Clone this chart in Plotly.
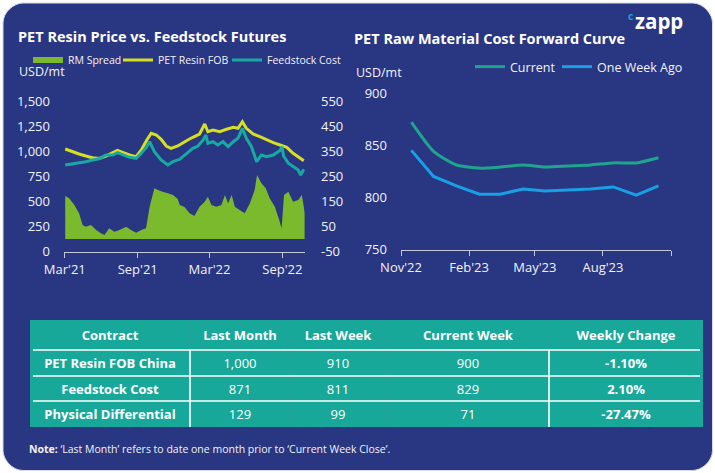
import plotly.graph_objects as go

W, H = 715, 473

# ---------------- data ----------------
resin_dates = ["2021-03-02","2021-03-20","2021-04-06","2021-04-23","2021-05-10","2021-05-27","2021-06-13","2021-06-30",
               "2021-07-12","2021-07-25","2021-08-11","2021-08-28","2021-09-10","2021-09-24","2021-10-05","2021-10-18",
               "2021-10-30","2021-11-12","2021-11-24","2021-12-11","2021-12-28","2022-01-02","2022-01-18","2022-02-04",
               "2022-02-17","2022-02-25","2022-03-10","2022-03-27","2022-04-13","2022-04-30","2022-05-12","2022-05-23",
               "2022-06-02","2022-06-19","2022-07-06","2022-07-23","2022-08-09","2022-08-26","2022-09-12","2022-09-28",
               "2022-10-11","2022-10-25"]
resin_fob = [1025, 998, 975, 955, 938, 931, 955, 988,
             1012, 992, 965, 948, 1015, 1115, 1182, 1165,
             1122, 1055, 1032, 1055, 1098, 1108, 1142, 1175,
             1275, 1198, 1215, 1198, 1222, 1242, 1232, 1298,
             1232, 1175, 1148, 1115, 1088, 1065, 1042, 982,
             948, 908]

feed_dates = ["2021-03-02","2021-03-20","2021-04-06","2021-04-23","2021-05-10","2021-05-27","2021-06-13","2021-06-30",
              "2021-07-12","2021-07-25","2021-08-11","2021-08-28","2021-09-10","2021-09-24","2021-10-01","2021-10-13",
              "2021-10-30","2021-11-16","2021-11-29","2021-12-16","2021-12-28","2022-01-02","2022-01-18","2022-01-31",
              "2022-02-13","2022-02-20","2022-02-25","2022-03-10","2022-03-22","2022-04-04","2022-04-17","2022-04-30",
              "2022-05-12","2022-05-23","2022-06-02","2022-06-15","2022-06-28","2022-07-10","2022-07-23","2022-08-09",
              "2022-08-26","2022-08-31","2022-09-04","2022-09-16","2022-09-28","2022-10-11","2022-10-17","2022-10-25"]
feedstock = [865, 875, 888, 898, 915, 928, 965, 965,
             988, 965, 942, 932, 982, 1048, 1098, 998,
             915, 865, 898, 922, 965, 982, 1032, 1055,
             1115, 1165, 1082, 1098, 1065, 1098, 1048, 1098,
             1132, 1232, 1132, 1048, 898, 965, 948, 965,
             1010, 1048, 955, 882, 848, 815, 765, 822]

spread_dates = ["2021-03-02","2021-03-12","2021-03-25","2021-04-06","2021-04-15","2021-04-23","2021-05-06","2021-05-19",
                "2021-05-31","2021-06-09","2021-06-21","2021-07-04","2021-07-17","2021-08-03","2021-08-15","2021-08-28",
                "2021-09-10","2021-09-22","2021-10-01","2021-10-13","2021-10-22","2021-11-03","2021-11-16","2021-11-29",
                "2021-12-11","2021-12-16","2021-12-28","2022-01-10","2022-01-22","2022-02-04","2022-02-17","2022-02-25",
                "2022-03-06","2022-03-18","2022-03-31","2022-04-09","2022-04-17","2022-04-26","2022-05-04","2022-05-16",
                "2022-05-29","2022-06-11","2022-06-23","2022-06-29","2022-07-10","2022-07-21","2022-07-31","2022-08-13",
                "2022-08-24","2022-08-30","2022-09-05","2022-09-16","2022-09-28","2022-10-11","2022-10-20","2022-10-25",
                "2022-10-27"]
rm_spread = [172, 163, 136, 103, 56, 49, 56, 36,
             23, 16, 43, 29, 36, 49, 36, 25,
             36, 43, 129, 203, 196, 189, 183, 176,
             160, 136, 128, 103, 92, 129, 149, 169,
             136, 129, 136, 176, 143, 176, 129, 116,
             103, 143, 196, 256, 223, 203, 163, 129,
             76, 43, 176, 189, 149, 156, 176, 129,
             103]

fwd_months = ["2022-11-15","2022-12-15","2023-01-15","2023-02-15","2023-03-15","2023-04-15",
              "2023-05-15","2023-06-15","2023-07-15","2023-08-15","2023-09-15","2023-10-15"]
fwd_current = [872, 844, 831, 828, 829, 831, 829, 830, 831, 833, 833, 838]
fwd_week_ago = [845, 820, 811, 803, 803, 808, 806, 807, 808, 810, 802, 811]

left_xticks = ["2021-03-01", "2021-09-01", "2022-03-01", "2022-09-01"]
left_xtext = ["Mar'21", "Sep'21", "Mar'22", "Sep'22"]
right_xticks = ["2022-11-01", "2023-02-01", "2023-05-01", "2023-08-01", "2023-11-01"]
right_xtext = ["Nov'22", "Feb'23", "May'23", "Aug'23", ""]
y2_ticks = [-50, 50, 150, 250, 350, 450, 550]
y2_text = ["-50", "50", "150", "250", "350", "450", "550"]

tbl_header = ["Contract", "Last Month", "Last Week", "Current Week", "Weekly Change"]
tbl_contract = ["PET Resin FOB China", "Feedstock Cost", "Physical Differential"]
tbl_last_month = ["1,000", "871", "129"]
tbl_last_week = ["910", "811", "99"]
tbl_current_week = ["900", "829", "71"]
tbl_weekly_change = ["-1.10%", "2.10%", "-27.47%"]

# ---------------- style / layout constants ----------------
NAVY = "#293682"
YELLOW = "#d6df22"
TEAL = "#18aaa2"
GREEN = "#7bb92d"
CUR = "#1fa58e"
WEEK = "#18a0e4"
TBL = "#17a89a"
TBL_LINE = "#2a9f97"
AXIS = "#c5c8da"
TXT = "#f2f2f7"
FONT = "Open Sans"

COL_W = [160, 100, 96, 163, 154]
ROW_H = [30, 26, 25, 26]

def px(x):
    return x / W

def py(y):
    return 1 - y / H

def cumulative(v):
    out = [0]
    for a in v:
        out.append(out[-1] + a)
    return out

fig = go.Figure()

fig.add_trace(go.Scatter(x=spread_dates, y=rm_spread, name="RM Spread", mode="none",
                         fill="tozeroy", fillcolor=GREEN,
                         xaxis="x", yaxis="y2", legend="legend"))
fig.add_trace(go.Scatter(x=resin_dates, y=resin_fob, name="PET Resin FOB", mode="lines",
                         line=dict(color=YELLOW, width=3), xaxis="x", yaxis="y", legend="legend3"))
fig.add_trace(go.Scatter(x=feed_dates, y=feedstock, name="Feedstock Cost", mode="lines",
                         line=dict(color=TEAL, width=3), xaxis="x", yaxis="y", legend="legend4"))

fig.add_trace(go.Scatter(x=fwd_months, y=fwd_current, name="Current", mode="lines",
                         line=dict(color=CUR, width=3, shape="spline", smoothing=0.6),
                         xaxis="x3", yaxis="y3", legend="legend2"))
fig.add_trace(go.Scatter(x=fwd_months, y=fwd_week_ago, name="One Week Ago", mode="lines",
                         line=dict(color=WEEK, width=3), xaxis="x3", yaxis="y3", legend="legend5"))

# ---------------- table as a heatmap grid ----------------
def b(s):
    return "<b>%s</b>" % s

rows_text = [[b(h) for h in tbl_header]]
for i in range(len(tbl_contract)):
    rows_text.append([b(tbl_contract[i]), tbl_last_month[i], tbl_last_week[i],
                      tbl_current_week[i], b(tbl_weekly_change[i])])
x_edges = cumulative(COL_W)
y_edges = cumulative(ROW_H)
z = [[1] * len(tbl_header) for _ in rows_text]

fig.add_trace(go.Heatmap(x=x_edges, y=y_edges, z=z, text=rows_text, texttemplate="%{text}",
                         textfont=dict(family=FONT, size=13, color="white"),
                         colorscale=[[0, TBL], [1, TBL]], showscale=False, hoverinfo="skip",
                         xaxis="x4", yaxis="y4"))

# table lines
for xe in x_edges[1:-1]:
    fig.add_shape(type="line", xref="x4", yref="y4", x0=xe, x1=xe, y0=y_edges[0], y1=y_edges[-1],
                  line=dict(color=TBL_LINE, width=1))
for yi in y_edges[1:-1]:
    fig.add_shape(type="line", xref="x4", yref="y4", x0=x_edges[0] + 3, x1=x_edges[-1] - 3,
                  y0=yi, y1=yi, line=dict(color="white", width=1.6))
for xe in (x_edges[1], x_edges[4]):
    fig.add_shape(type="line", xref="x4", yref="y4", x0=xe, x1=xe, y0=y_edges[1], y1=y_edges[-1],
                  line=dict(color="white", width=1.6))

axis_common = dict(showgrid=False, zeroline=False, automargin=False,
                   tickfont=dict(family=FONT, size=13, color=TXT))

def leg(x, y, size):
    return dict(orientation="h", x=px(x), y=py(y), xanchor="left", yanchor="middle",
                font=dict(family=FONT, size=size, color=TXT), bgcolor="rgba(0,0,0,0)",
                itemwidth=30)

fig.update_layout(
    width=W, height=H,
    margin=dict(l=0, r=0, t=0, b=0, autoexpand=False),
    paper_bgcolor="white",
    plot_bgcolor="rgba(0,0,0,0)",
    font=dict(family=FONT, color=TXT),
    hovermode=False,
    xaxis=dict(domain=[px(64), px(305)], type="date", range=["2021-02-27", "2022-10-28"],
               tickvals=left_xticks, ticktext=left_xtext, ticks="outside", ticklen=5,
               tickcolor=AXIS, showline=True, linecolor=AXIS, linewidth=1.5,
               anchor="y", **axis_common),
    yaxis=dict(domain=[py(251.5), py(101.5)], range=[0, 1500], tickvals=list(range(0, 1501, 250)),
               tickformat=",", ticks="", ticklabelstandoff=13, anchor="x", **axis_common),
    yaxis2=dict(range=[-50, 550], tickvals=y2_ticks, ticktext=y2_text, overlaying="y",
                side="right", anchor="x", ticks="", ticklabelstandoff=15, **axis_common),
    xaxis3=dict(domain=[px(401), px(671)], type="date", range=["2022-11-01", "2023-11-01"],
                tickvals=right_xticks, ticktext=right_xtext, ticks="outside", ticklen=5,
                tickcolor=AXIS, showline=True, linecolor=AXIS, linewidth=1.5,
                anchor="y3", **axis_common),
    yaxis3=dict(domain=[py(249.5), py(93)], range=[750, 900], tickvals=[750, 800, 850, 900],
                ticks="", ticklabelstandoff=13, anchor="x3", **axis_common),
    xaxis4=dict(domain=[px(30), px(703)], range=[x_edges[0], x_edges[-1]], visible=False,
                anchor="y4", fixedrange=True),
    yaxis4=dict(domain=[py(427), py(320)], range=[y_edges[-1], y_edges[0]], visible=False,
                anchor="x4", fixedrange=True),
    legend=leg(28, 60, 10.5),
    legend3=leg(118, 60, 10.5),
    legend4=leg(227, 60, 10.5),
    legend2=leg(470, 67, 12.5),
    legend5=leg(557, 67, 12.5),
    showlegend=True,
)

# rounded navy panel
x0, x1, y0, y1 = px(3), px(712.5), py(3), py(470.5)
rx, ry = px(20), 20 / H
k = 0.45
path = (f"M{x0+rx},{y0} L{x1-rx},{y0} C{x1-rx*k},{y0} {x1},{y0-ry*(1-k)} {x1},{y0-ry} "
        f"L{x1},{y1+ry} C{x1},{y1+ry*k} {x1-rx*(1-k)},{y1} {x1-rx},{y1} "
        f"L{x0+rx},{y1} C{x0+rx*k},{y1} {x0},{y1+ry*(1-k)} {x0},{y1+ry} "
        f"L{x0},{y0-ry} C{x0},{y0-ry*k} {x0+rx*(1-k)},{y0} {x0+rx},{y0} Z")
fig.add_shape(type="path", path=path, xref="paper", yref="paper", layer="below",
              fillcolor=NAVY, line=dict(color="#d8d9e4", width=1))

def note(text, x, y, size, xanchor="left", bold_=False, color=TXT):
    fig.add_annotation(text=("<b>%s</b>" % text) if bold_ else text, x=px(x), y=py(y),
                       xref="paper", yref="paper", xanchor=xanchor, yanchor="middle",
                       showarrow=False, font=dict(family=FONT, size=size, color=color))

note("PET Resin Price vs. Feedstock Futures", 16, 36.5, 14.5, bold_=True, color="white")
note("PET Raw Material Cost Forward Curve", 352, 38, 14.5, bold_=True, color="white")
note("USD/mt", 17, 72, 12.5)
note("USD/mt", 354, 73, 12.5)
note("zapp", 633, 20.5, 20.5, bold_=True, color="white")
note("c", 626, 16, 10.5, bold_=True, color=WEEK)
note("<b>Note:</b> ‘Last Month’ refers to date one month prior to ‘Current Week Close’.",
     27, 449, 10.5)

fig.write_html("out.html", config={"displayModeBar": False, "staticPlot": True},
               post_script="document.body.style.margin='0px';document.body.style.overflow='hidden';")
